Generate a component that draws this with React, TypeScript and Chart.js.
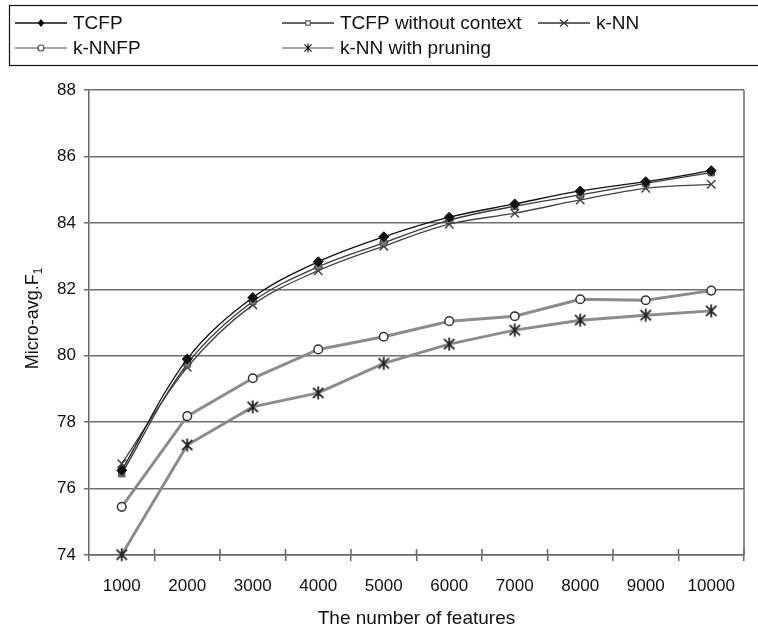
import React, { useEffect, useRef } from "react";
import { Chart, registerables } from "chart.js";

Chart.register(...registerables);

const categories = ["1000", "2000", "3000", "4000", "5000", "6000", "7000", "8000", "9000", "10000"];
const tcfp = [76.55, 79.9, 81.75, 82.83, 83.58, 84.17, 84.57, 84.96, 85.24, 85.57];
const tcfpNoContext = [76.45, 79.75, 81.63, 82.68, 83.4, 84.08, 84.5, 84.84, 85.19, 85.51];
const knn = [76.75, 79.65, 81.53, 82.56, 83.3, 83.96, 84.29, 84.69, 85.04, 85.16];
const knnfp = [75.45, 78.18, 79.32, 80.19, 80.57, 81.04, 81.19, 81.7, 81.67, 81.96];
const knnPruning = [74.01, 77.31, 78.46, 78.88, 79.77, 80.35, 80.77, 81.07, 81.22, 81.35];
const seriesNames = ["TCFP", "TCFP without context", "k-NN", "k-NNFP", "k-NN with pruning"];
const yMin = 74;
const yMax = 88;
const yStep = 2;
const xTitle = "The number of features";
const yTitleMain = "Micro-avg.F";
const yTitleSub = "1";

const FONT = '"Liberation Sans", Arial, Helvetica, sans-serif';

function drawAsterisk(ctx: CanvasRenderingContext2D, x: number, y: number, r: number, lw: number) {
  ctx.save();
  ctx.strokeStyle = "#222";
  ctx.lineWidth = lw;
  ctx.beginPath();
  ctx.moveTo(x, y - r);
  ctx.lineTo(x, y + r);
  const d = r * 0.8;
  ctx.moveTo(x - d, y - d);
  ctx.lineTo(x + d, y + d);
  ctx.moveTo(x + d, y - d);
  ctx.lineTo(x - d, y + d);
  ctx.stroke();
  ctx.restore();
}

function makeAsteriskCanvas(): HTMLCanvasElement {
  const c = document.createElement("canvas");
  c.width = 16;
  c.height = 16;
  const ctx = c.getContext("2d")!;
  drawAsterisk(ctx, 8, 8, 6.5, 1.8);
  return c;
}

function drawLegendMarker(ctx: CanvasRenderingContext2D, kind: string, x: number, y: number) {
  ctx.save();
  ctx.lineWidth = 1.2;
  if (kind === "diamond") {
    ctx.fillStyle = "#000";
    ctx.beginPath();
    ctx.moveTo(x, y - 4);
    ctx.lineTo(x + 3.2, y);
    ctx.lineTo(x, y + 4);
    ctx.lineTo(x - 3.2, y);
    ctx.closePath();
    ctx.fill();
  } else if (kind === "square") {
    ctx.fillStyle = "#fff";
    ctx.strokeStyle = "#555";
    ctx.fillRect(x - 2.2, y - 2.2, 4.4, 4.4);
    ctx.strokeRect(x - 2.2, y - 2.2, 4.4, 4.4);
  } else if (kind === "cross") {
    ctx.strokeStyle = "#333";
    ctx.beginPath();
    ctx.moveTo(x - 4, y - 3.5);
    ctx.lineTo(x + 4, y + 3.5);
    ctx.moveTo(x + 4, y - 3.5);
    ctx.lineTo(x - 4, y + 3.5);
    ctx.stroke();
  } else if (kind === "circle") {
    ctx.fillStyle = "#fff";
    ctx.strokeStyle = "#444";
    ctx.beginPath();
    ctx.arc(x, y, 3, 0, Math.PI * 2);
    ctx.fill();
    ctx.stroke();
  } else if (kind === "asterisk") {
    drawAsterisk(ctx, x, y, 4.5, 1.3);
  }
  ctx.restore();
}

const legendItems = [
  { name: seriesNames[0], kind: "diamond", color: "#111", lx: 15, row: 0 },
  { name: seriesNames[1], kind: "square", color: "#333", lx: 282, row: 0 },
  { name: seriesNames[2], kind: "cross", color: "#333", lx: 538, row: 0 },
  { name: seriesNames[3], kind: "circle", color: "#888", lx: 15, row: 1 },
  { name: seriesNames[4], kind: "asterisk", color: "#888", lx: 282, row: 1 },
];

const customPlugin = {
  id: "customDecor",
  afterDraw(chart: any) {
    const { ctx, chartArea } = chart;
    ctx.save();
    // legend box
    ctx.strokeStyle = "#111";
    ctx.lineWidth = 1.2;
    ctx.strokeRect(9.5, 5.5, 760, 60);
    ctx.font = `19px ${FONT}`;
    ctx.textBaseline = "middle";
    ctx.fillStyle = "#111";
    for (const it of legendItems) {
      const y = it.row === 0 ? 23 : 48;
      ctx.strokeStyle = it.color;
      ctx.lineWidth = 1.3;
      ctx.beginPath();
      ctx.moveTo(it.lx, y);
      ctx.lineTo(it.lx + 52, y);
      ctx.stroke();
      drawLegendMarker(ctx, it.kind, it.lx + 26, y);
      ctx.fillStyle = "#111";
      ctx.fillText(it.name, it.lx + 58, y + 1);
    }
    // right border of plot
    ctx.strokeStyle = "#666";
    ctx.lineWidth = 1.5;
    ctx.beginPath();
    ctx.moveTo(chartArea.right, chartArea.top);
    ctx.lineTo(chartArea.right, chartArea.bottom);
    ctx.stroke();
    // inner part of crossing x ticks
    const n = categories.length;
    const w = (chartArea.right - chartArea.left) / n;
    ctx.beginPath();
    for (let i = 1; i <= n; i++) {
      const x = chartArea.left + i * w;
      ctx.moveTo(x, chartArea.bottom);
      ctx.lineTo(x, chartArea.bottom - 6);
    }
    ctx.stroke();
    // y title with subscript
    ctx.translate(33, (chartArea.top + chartArea.bottom) / 2 - 4);
    ctx.rotate(-Math.PI / 2);
    ctx.fillStyle = "#111";
    ctx.font = `18px ${FONT}`;
    const mainW = ctx.measureText(yTitleMain).width;
    ctx.font = `12px ${FONT}`;
    const subW = ctx.measureText(yTitleSub).width;
    const total = mainW + subW;
    ctx.textBaseline = "middle";
    ctx.textAlign = "left";
    ctx.font = `18px ${FONT}`;
    ctx.fillText(yTitleMain, -total / 2, 0);
    ctx.font = `12px ${FONT}`;
    ctx.fillText(yTitleSub, -total / 2 + mainW, 6);
    ctx.restore();
  },
};

export default function App() {
  const ref = useRef<HTMLCanvasElement | null>(null);
  useEffect(() => {
    if (!ref.current) return;
    const asterisk = makeAsteriskCanvas();
    const chart = new Chart(ref.current, {
      type: "line",
      data: {
        labels: categories,
        datasets: [
          {
            label: seriesNames[0],
            data: tcfp,
            borderColor: "#111",
            borderWidth: 1.3,
            tension: 0.35,
            pointStyle: "rectRot",
            pointRadius: 5,
            pointBackgroundColor: "#111",
            pointBorderColor: "#111",
            pointBorderWidth: 1,
            clip: false as any,
          },
          {
            label: seriesNames[1],
            data: tcfpNoContext,
            borderColor: "#3a3a3a",
            borderWidth: 1.3,
            tension: 0.35,
            pointStyle: "rect",
            pointRadius: 4.5,
            pointBackgroundColor: "#777",
            pointBorderColor: "#444",
            pointBorderWidth: 1,
            clip: false as any,
          },
          {
            label: seriesNames[2],
            data: knn,
            borderColor: "#444",
            borderWidth: 1.3,
            tension: 0.35,
            pointStyle: "crossRot",
            pointRadius: 6,
            pointBorderColor: "#444",
            pointBorderWidth: 1.5,
            clip: false as any,
          },
          {
            label: seriesNames[3],
            data: knnfp,
            borderColor: "#8c8c8c",
            borderWidth: 3,
            tension: 0,
            pointStyle: "circle",
            pointRadius: 4.3,
            pointBackgroundColor: "#fff",
            pointBorderColor: "#333",
            pointBorderWidth: 1.5,
            clip: false as any,
          },
          {
            label: seriesNames[4],
            data: knnPruning,
            borderColor: "#8c8c8c",
            borderWidth: 3,
            tension: 0,
            pointStyle: asterisk as any,
            pointRadius: 6,
            clip: false as any,
          },
        ],
      },
      options: {
        responsive: false,
        animation: false,
        devicePixelRatio: 1,
        layout: { padding: { top: 90, right: 14, left: 0, bottom: 0 } },
        plugins: {
          legend: { display: false },
          tooltip: { enabled: false },
          title: { display: false },
        },
        scales: {
          x: {
            type: "category",
            offset: true,
            afterFit: (s: any) => {
              s.height = 76;
            },
            grid: {
              offset: true,
              drawOnChartArea: false,
              drawTicks: true,
              tickLength: 6,
              color: "#666",
              lineWidth: 1.5,
            },
            border: { display: true, color: "#666", width: 1.5 },
            ticks: {
              color: "#111",
              font: { size: 17, family: FONT },
              padding: 15,
              maxRotation: 0,
              autoSkip: false,
            },
            title: {
              display: true,
              text: xTitle,
              color: "#111",
              font: { size: 19, family: FONT },
              padding: { top: 0, bottom: 1 },
            },
          },
          y: {
            min: yMin,
            max: yMax,
            afterFit: (s: any) => {
              s.width = 89;
            },
            grid: {
              color: "#6e6e6e",
              lineWidth: 1.5,
              drawTicks: true,
              tickLength: 5,
            },
            border: { display: true, color: "#666", width: 1.5 },
            ticks: {
              stepSize: yStep,
              color: "#111",
              font: { size: 17, family: FONT },
              padding: 8,
            },
          },
        },
      },
      plugins: [customPlugin],
    });
    return () => chart.destroy();
  }, []);
  return (
    <div style={{ position: "absolute", left: 0, top: 0, width: 758, height: 631, background: "#fff" }}>
      <canvas ref={ref} width={758} height={631} style={{ display: "block" }} />
    </div>
  );
}
